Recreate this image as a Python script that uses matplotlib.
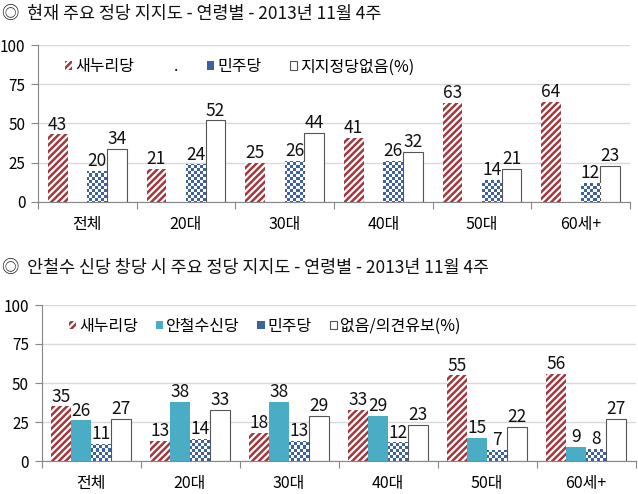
import numpy as np
import matplotlib
matplotlib.use('Agg')
import matplotlib.pyplot as plt
from matplotlib.patches import Patch

plt.rcParams['font.family'] = ['Noto Sans CJK KR', 'DejaVu Sans']
plt.rcParams['hatch.linewidth'] = 1.8

ages = ['전체', '20대', '30대', '40대', '50대', '60세+']

# 현재 주요 정당 지지도
top_saenuri = [43, 21, 25, 41, 63, 64]
top_minjoo = [20, 24, 26, 26, 14, 12]
top_none = [34, 52, 44, 32, 21, 23]

# 안철수 신당 창당 시
bot_saenuri = [35, 13, 18, 33, 55, 56]
bot_ahn = [26, 38, 38, 29, 15, 9]
bot_minjoo = [11, 14, 13, 12, 7, 8]
bot_none = [27, 33, 29, 23, 22, 27]

title_top = '◎  현재 주요 정당 지지도 - 연령별 - 2013년 11월 4주'
title_bot = '◎  안철수 신당 창당 시 주요 정당 지지도 - 연령별 - 2013년 11월 4주'

RED = '#a3373c'
BLUE = '#3d62a4'
CYAN = '#4bacc6'
GRID = '#d9d9d9'
AXIS = '#868686'
W = 0.2
FW, FH = 638, 494

fig = plt.figure(figsize=(FW / 100, FH / 100), dpi=100)
ax1 = fig.add_axes([38 / FW, 292 / FH, 592 / FW, 157 / FH])
ax2 = fig.add_axes([41.5 / FW, 33 / FH, 594 / FW, 156 / FH])

x = np.arange(len(ages))


def checker(ax, bars, cell=3.0):
    # white checks laid over the blue bars, clipped to each bar
    pos = ax.get_position()
    wpx, hpx = pos.width * FW, pos.height * FH
    nc, nr = int(np.ceil(wpx / cell)), int(np.ceil(hpx / cell))
    x0, x1 = ax.get_xlim()
    y0, y1 = ax.get_ylim()
    ext = (x0, x0 + (x1 - x0) * nc * cell / wpx, y1 - (y1 - y0) * nr * cell / hpx, y1)
    rgba = np.ones((nr, nc, 4))
    rgba[..., 3] = np.add.outer(np.arange(nr), np.arange(nc)) % 2
    for b in bars:
        im = ax.imshow(rgba, extent=ext, aspect='auto', interpolation='nearest', zorder=2.5)
        im.set_clip_path(b)
    ax.set_xlim(x0, x1)
    ax.set_ylim(y0, y1)


def labels(ax, bars, vals):
    for b, v in zip(bars, vals):
        ax.annotate(str(v), (b.get_x() + b.get_width() / 2, b.get_height()),
                    xytext=(0, 0.5), textcoords='offset points',
                    ha='center', va='bottom', fontsize=12.5, color='#111111', zorder=4)


def style(ax):
    ax.set_xlim(-0.5, len(ages) - 0.5)
    ax.set_ylim(0, 100)
    ax.set_yticks([0, 25, 50, 75, 100])
    ax.yaxis.grid(True, color=GRID, linewidth=1)
    ax.set_axisbelow(True)
    for s in ['top', 'right']:
        ax.spines[s].set_visible(False)
    for s in ['left', 'bottom']:
        ax.spines[s].set_color(AXIS)
    ax.set_xticks(np.arange(len(ages) + 1) - 0.5)
    ax.set_xticklabels([])
    ax.set_xticks(x, ages, minor=True)
    ax.tick_params(axis='x', which='major', length=5, color=AXIS)
    ax.tick_params(axis='x', which='minor', length=0, pad=10, labelsize=11.5)
    ax.tick_params(axis='y', length=5, color=AXIS, pad=4, labelsize=11)


# ---- top chart ----
style(ax1)
r1 = ax1.bar(x - 0.3, top_saenuri, W, facecolor='white', edgecolor=RED, hatch='/////', linewidth=0, zorder=2)
b1 = ax1.bar(x + 0.1, top_minjoo, W, color=BLUE, linewidth=0, zorder=2)
w1 = ax1.bar(x + 0.3, top_none, W, facecolor='white', edgecolor='#555555', linewidth=0.8, zorder=2)
checker(ax1, b1)
for bars, vals in [(r1, top_saenuri), (b1, top_minjoo), (w1, top_none)]:
    labels(ax1, bars, vals)

h1 = [r1, Patch(facecolor='none', edgecolor='none'), b1, w1]
ax1.legend(h1, ['새누리당', '.', '민주당', '지지정당없음(%)'], ncol=4, frameon=False,
           loc='center left', bbox_to_anchor=(0.035, 0.86), fontsize=11.5,
           handlelength=0.45, handleheight=0.45, handletextpad=0.2, columnspacing=1.8,
           borderaxespad=0)

# ---- bottom chart ----
style(ax2)
r2 = ax2.bar(x - 0.3, bot_saenuri, W, facecolor='white', edgecolor=RED, hatch='/////', linewidth=0, zorder=2)
c2 = ax2.bar(x - 0.1, bot_ahn, W, color=CYAN, linewidth=0, zorder=2)
b2 = ax2.bar(x + 0.1, bot_minjoo, W, color=BLUE, linewidth=0, zorder=2)
w2 = ax2.bar(x + 0.3, bot_none, W, facecolor='white', edgecolor='#555555', linewidth=0.8, zorder=2)
checker(ax2, b2)
for bars, vals in [(r2, bot_saenuri), (c2, bot_ahn), (b2, bot_minjoo), (w2, bot_none)]:
    labels(ax2, bars, vals)

ax2.legend([r2, c2, b2, w2], ['새누리당', '안철수신당', '민주당', '없음/의견유보(%)'], ncol=4,
           frameon=False, loc='center left', bbox_to_anchor=(0.035, 0.865), fontsize=11.5,
           handlelength=0.45, handleheight=0.45, handletextpad=0.2, columnspacing=1.1,
           borderaxespad=0)

fig.text(2 / FW, 1 - 14 / FH, title_top, fontsize=12.5, va='center', ha='left', color='#111111')
fig.text(2 / FW, 1 - 268 / FH, title_bot, fontsize=12.5, va='center', ha='left', color='#111111')

fig.savefig('out.png', dpi=100, facecolor='white')
